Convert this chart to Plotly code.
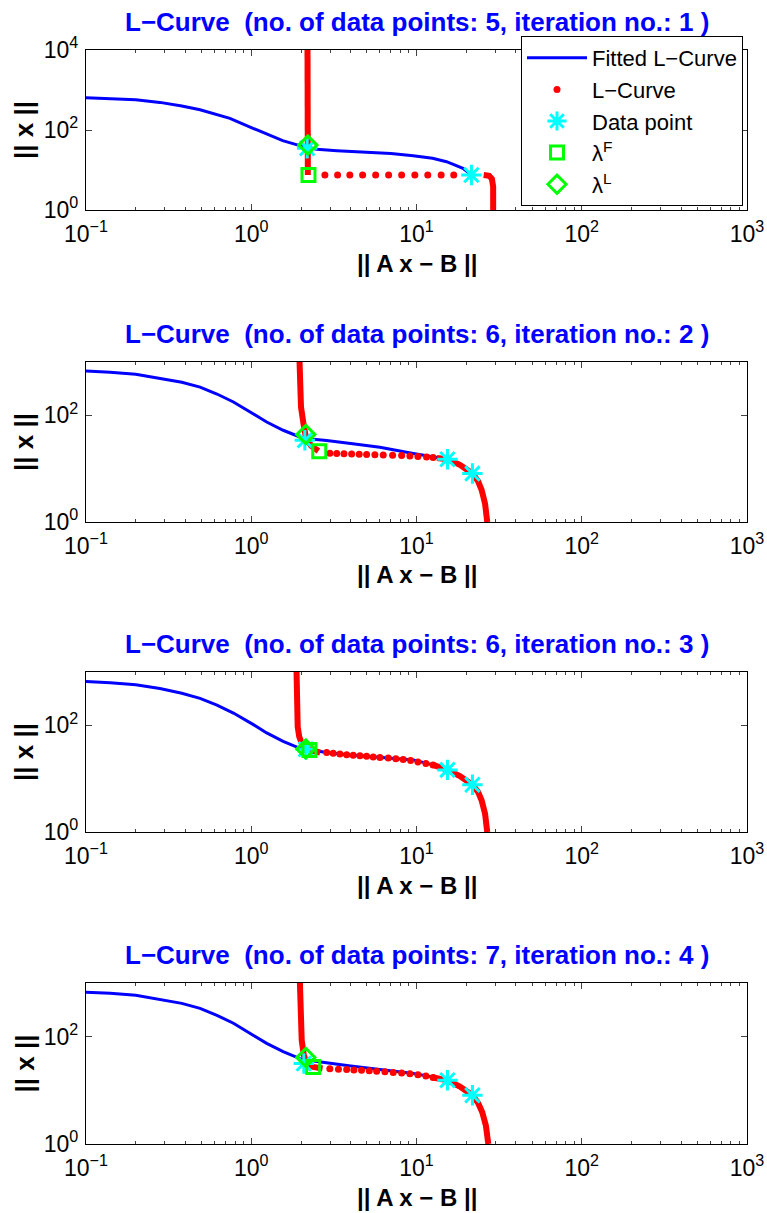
import plotly.graph_objects as go

# ---------------- data ----------------
panel_titles = [
    "L−Curve  (no. of data points: 5, iteration no.: 1 )",
    "L−Curve  (no. of data points: 6, iteration no.: 2 )",
    "L−Curve  (no. of data points: 6, iteration no.: 3 )",
    "L−Curve  (no. of data points: 7, iteration no.: 4 )",
]
x_tick_vals = [0.1, 1, 10, 100, 1000]
x_tick_text = ["10<sup>−1</sup>", "10<sup>0</sup>", "10<sup>1</sup>", "10<sup>2</sup>", "10<sup>3</sup>"]
y_tick_vals_1 = [1, 100, 10000]
y_tick_text_1 = ["10<sup>0</sup>", "10<sup>2</sup>", "10<sup>4</sup>"]
y_tick_vals = [1, 100]
y_tick_text = ["10<sup>0</sup>", "10<sup>2</sup>"]

# panel 1 (iteration 1)
fit1_x = [0.1, 0.14, 0.2, 0.28, 0.38, 0.49, 0.62, 0.743, 1.0, 1.25, 1.55, 1.92, 2.49, 3.3, 4.76, 7, 9.55, 12.5, 15.2, 19.1, 21.5]
fit1_y = [640, 615, 570, 490, 400, 320, 245, 195, 115, 77, 54, 42, 33, 30.5, 28.7, 26, 22.8, 19.7, 16.1, 11, 7.5]
lc1_top_x = [2.19, 2.19, 2.2]
lc1_top_y = [10000, 100, 7.5]
lc1_dot_x = [2.79, 3.33, 3.95, 4.72, 5.66, 6.78, 8.13, 9.77, 11.7, 14.1, 16.8]
lc1_dot_y = [7.5, 7.5, 7.5, 7.5, 7.5, 7.5, 7.5, 7.5, 7.5, 7.5, 7.5]
lc1_tail_x = [25.5, 27.5, 28.6, 29.1, 29.1]
lc1_tail_y = [7.5, 7.2, 6.0, 3.8, 1.0]
dp1_x = [2.18, 21.5]
dp1_y = [35, 7.5]
lamF1 = (2.22, 7.5)
lamL1 = (2.2, 42)

# panel 2 (iteration 2)
fit2_x = [0.1, 0.14, 0.2, 0.28, 0.38, 0.49, 0.62, 0.78, 1.03, 1.24, 1.56, 1.97, 2.2, 2.86, 4, 6, 9.56, 12.5, 15.4]
fit2_y = [676, 645, 590, 500, 417, 339, 251, 178, 107, 75, 52.5, 39.3, 36.3, 33.9, 29.5, 25.1, 19.2, 16.8, 15.0]
lc2_top_x = [1.96, 1.97, 2.0, 2.07, 2.14, 2.3, 2.55]
lc2_top_y = [1000, 400, 143, 70, 39, 27, 21.5]
lc2_dot_x = [2.99, 3.29, 3.64, 4.05, 4.50, 4.99, 5.60, 6.29, 7.17, 8.13, 9.12, 10.2, 11.5, 12.6]
lc2_dot_y = [19.5, 19.3, 19.1, 18.9, 18.7, 18.5, 18.3, 18.1, 17.9, 17.6, 17.3, 17.0, 16.6, 16.2]
lc2_tail_x = [13.3, 15.4, 18.3, 21.8, 23.6, 24.8, 26.0, 26.8]
lc2_tail_y = [15.8, 15.0, 11.8, 8.1, 5.8, 3.96, 2.2, 1.0]
dp2_x = [2.11, 15.4, 21.8]
dp2_y = [34, 15, 8.1]
lamF2 = (2.58, 21.2)
lamL2 = (2.14, 43.6)

# panel 3 (iteration 3)
fit3_x = [0.1, 0.14, 0.2, 0.28, 0.38, 0.49, 0.62, 0.78, 1.03, 1.24, 1.56, 1.97, 2.14, 2.86, 3.95, 6, 9.56, 12.6, 15.4]
fit3_y = [660, 630, 578, 490, 400, 320, 240, 170, 103, 72, 50, 37, 35.6, 31, 27.9, 25, 22.5, 18.1, 14.6]
lc3_top_x = [1.88, 1.89, 1.91, 1.95, 2.02, 2.14, 2.61]
lc3_top_y = [1000, 193, 94, 62, 46, 35.6, 31]
lc3_dot_x = [2.86, 3.13, 3.44, 3.78, 4.14, 4.55, 4.99, 5.47, 6.01, 6.75, 7.50, 8.31, 9.21, 10.2, 11.4, 12.6]
lc3_dot_y = [31, 30, 29, 28.2, 27.5, 26.8, 26.2, 25.6, 25.0, 24.3, 23.6, 22.8, 21.8, 20.6, 19.3, 18.1]
lc3_tail_x = [12.6, 15.4, 18.3, 21.8, 23.6, 24.8, 26.0, 26.8]
lc3_tail_y = [18.1, 14.6, 11.2, 7.7, 5.6, 3.9, 2.2, 1.0]
dp3_x = [2.14, 15.4, 21.8]
dp3_y = [35.6, 14.6, 7.7]
lamF3 = (2.25, 34.5)
lamL3 = (2.14, 36)

# panel 4 (iteration 4)
fit4_x = [0.1, 0.14, 0.2, 0.28, 0.38, 0.49, 0.62, 0.78, 1.03, 1.24, 1.56, 1.97, 2.2, 2.86, 4, 6, 9.56, 12.5, 15.4]
fit4_y = [670, 645, 590, 500, 417, 337, 250, 178, 107, 75, 52.5, 39, 36.5, 32.4, 28.5, 24.5, 20.5, 17.8, 15.4]
lc4_top_x = [1.97, 1.98, 2.02, 2.08, 2.18, 2.37, 2.7]
lc4_top_y = [1000, 300, 86, 45, 31, 27.3, 25.6]
lc4_dot_x = [2.99, 3.37, 3.78, 4.18, 4.65, 5.18, 5.74, 6.44, 7.23, 8.13, 9.12, 10.2, 11.4, 12.6]
lc4_dot_y = [25.2, 24.8, 24.4, 24.0, 23.6, 23.2, 22.7, 22.2, 21.6, 21.0, 20.3, 19.5, 18.5, 17.3]
lc4_tail_x = [12.6, 15.4, 18.3, 21.8, 23.6, 25.0, 26.3, 27.2]
lc4_tail_y = [17.3, 15.4, 11.8, 8.1, 5.8, 3.9, 2.2, 1.0]
dp4_x = [2.08, 15.4, 21.8]
dp4_y = [31.6, 15.4, 8.1]
lamF4 = (2.37, 27.3)
lamL4 = (2.14, 40.9)

panels = [
    (fit1_x, fit1_y, lc1_top_x, lc1_top_y, lc1_dot_x, lc1_dot_y, lc1_tail_x, lc1_tail_y, dp1_x, dp1_y, lamF1, lamL1),
    (fit2_x, fit2_y, lc2_top_x, lc2_top_y, lc2_dot_x, lc2_dot_y, lc2_tail_x, lc2_tail_y, dp2_x, dp2_y, lamF2, lamL2),
    (fit3_x, fit3_y, lc3_top_x, lc3_top_y, lc3_dot_x, lc3_dot_y, lc3_tail_x, lc3_tail_y, dp3_x, dp3_y, lamF3, lamL3),
    (fit4_x, fit4_y, lc4_top_x, lc4_top_y, lc4_dot_x, lc4_dot_y, lc4_tail_x, lc4_tail_y, dp4_x, dp4_y, lamF4, lamL4),
]

# ---------------- styling / layout ----------------
W, H = 767, 1213
FONT = "Liberation Sans, Arial, Helvetica, sans-serif"
BLUE, RED, CYAN, GREEN = "#0000FF", "#FF0000", "#00FFFF", "#00FF00"

plot_left, plot_right = 86, 747           # pixel extent of every axes box
panel_px = [(50, 210), (362, 522), (672, 832), (983, 1144)]  # top, bottom in pixels

minor_x = [k * 10.0 ** e for e in range(-1, 3) for k in range(2, 10)]

fig = go.Figure()
annotations = []
layout_axes = {}

for i, (fx, fy, tx, ty, dx, dy, ex, ey, px, py, lf, ll) in enumerate(panels):
    n = i + 1
    xa = "x" if n == 1 else f"x{n}"
    ya = "y" if n == 1 else f"y{n}"
    first = n == 1

    fig.add_trace(go.Scatter(x=fx, y=fy, mode="lines", name="Fitted L−Curve",
                             line=dict(color=BLUE, width=3), xaxis=xa, yaxis=ya,
                             showlegend=first))
    fig.add_trace(go.Scatter(x=tx, y=ty, mode="lines", line=dict(color=RED, width=6),
                             xaxis=xa, yaxis=ya, showlegend=False, hoverinfo="skip"))
    fig.add_trace(go.Scatter(x=ex, y=ey, mode="lines", line=dict(color=RED, width=6),
                             xaxis=xa, yaxis=ya, showlegend=False, hoverinfo="skip"))
    fig.add_trace(go.Scatter(x=dx, y=dy, mode="markers", name="L−Curve",
                             marker=dict(color=RED, size=7, symbol="circle"),
                             xaxis=xa, yaxis=ya, showlegend=first))
    fig.add_trace(go.Scatter(x=px, y=py, mode="markers", name="Data point",
                             marker=dict(symbol="asterisk-open", size=17, color=CYAN,
                                         line=dict(color=CYAN, width=3)),
                             xaxis=xa, yaxis=ya, showlegend=first))
    fig.add_trace(go.Scatter(x=[lf[0]], y=[lf[1]], mode="markers", name="λ<sup>F</sup>",
                             marker=dict(symbol="square-open", size=13, color=GREEN,
                                         line=dict(color=GREEN, width=3)),
                             xaxis=xa, yaxis=ya, showlegend=first))
    fig.add_trace(go.Scatter(x=[ll[0]], y=[ll[1]], mode="markers", name="λ<sup>L</sup>",
                             marker=dict(symbol="diamond-open", size=14, color=GREEN,
                                         line=dict(color=GREEN, width=3)),
                             xaxis=xa, yaxis=ya, showlegend=first))

    top, bot = panel_px[i]
    key_x = "xaxis" if n == 1 else f"xaxis{n}"
    key_y = "yaxis" if n == 1 else f"yaxis{n}"
    layout_axes[key_x] = dict(
        type="log", range=[-1, 3], domain=[plot_left / W, plot_right / W], anchor=ya,
        automargin=False,
        tickvals=x_tick_vals, ticktext=x_tick_text, ticks="inside", ticklen=6,
        tickcolor="#444", tickwidth=1, showline=True, linecolor="black", linewidth=1.2,
        mirror="ticks", showgrid=False, zeroline=False, ticklabelstandoff=3,
        tickfont=dict(family=FONT, size=23, color="black"),
        minor=dict(tickvals=minor_x, ticks="inside", ticklen=3, tickcolor="#444", showgrid=False),
    )
    layout_axes[key_y] = dict(
        type="log", range=[0, 4] if first else [0, 3],
        domain=[1 - bot / H, 1 - top / H], anchor=xa, automargin=False,
        tickvals=y_tick_vals_1 if first else y_tick_vals,
        ticktext=y_tick_text_1 if first else y_tick_text,
        ticks="inside", ticklen=6, tickcolor="#444", tickwidth=1,
        showline=True, linecolor="black", linewidth=1.2, mirror="ticks",
        showgrid=False, zeroline=False, ticklabelstandoff=2,
        tickfont=dict(family=FONT, size=23, color="black"),
    )

    cx = (plot_left + plot_right) / 2 / W
    annotations.append(dict(text=f"<b>{panel_titles[i]}</b>", x=cx, y=1 - (top - 28) / H,
                            xref="paper", yref="paper", showarrow=False,
                            font=dict(family=FONT, size=26, color=BLUE),
                            xanchor="center", yanchor="middle"))
    annotations.append(dict(text="<b>|| A x − B ||</b>", x=cx, y=1 - (bot + 53) / H,
                            xref="paper", yref="paper", showarrow=False,
                            font=dict(family=FONT, size=24, color="black"),
                            xanchor="center", yanchor="middle"))
    annotations.append(dict(text="<b>|| x ||</b>", x=24 / W, y=1 - (top + bot) / 2 / H,
                            xref="paper", yref="paper", showarrow=False, textangle=-90,
                            font=dict(family=FONT, size=26, color="black"),
                            xanchor="center", yanchor="middle"))

fig.update_layout(
    width=W, height=H, autosize=False,
    margin=dict(l=0, r=0, t=0, b=0, autoexpand=False),
    paper_bgcolor="white", plot_bgcolor="white",
    annotations=annotations,
    legend=dict(x=521 / W, y=1 - 36 / H, xanchor="left", yanchor="top",
                bgcolor="white", bordercolor="black", borderwidth=1,
                font=dict(family=FONT, size=22, color="black"),
                itemwidth=60),
    **layout_axes,
)

fig.write_html("out.html")
